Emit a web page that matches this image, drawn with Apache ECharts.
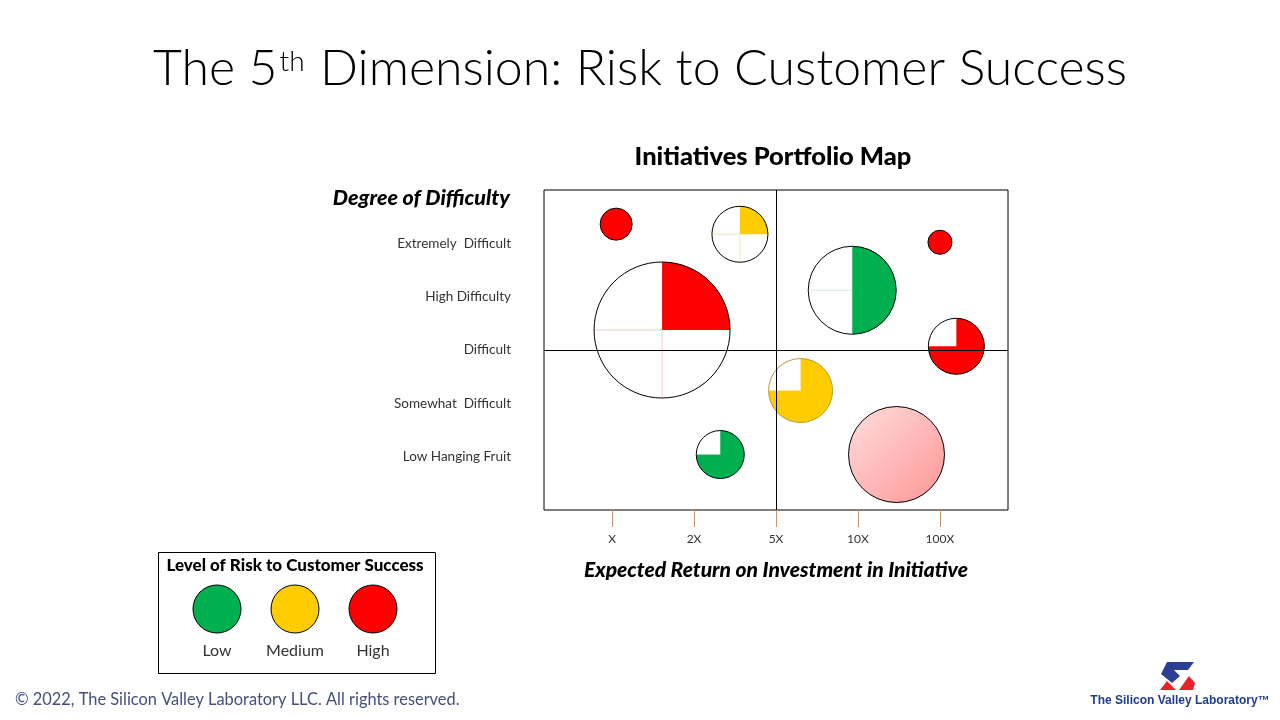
<!DOCTYPE html>
<html>
<head>
<meta charset="utf-8">
<script src="https://cdn.jsdelivr.net/npm/echarts@6/dist/echarts.min.js"></script>
<style>html,body{margin:0;padding:0;background:#fff;}#main{width:1280px;height:720px;}</style>
</head>
<body>
<div id="main"></div>
<script>
// ---- data ----
const xLabels = ['X', '2X', '5X', '10X', '100X'];
const yLabels = ['Low Hanging Fruit', 'Somewhat  Difficult', 'Difficult', 'High Difficulty', 'Extremely  Difficult'];
const roiX = [0.05, 1.56, 0.61, 2.93, 4.00, 4.20, 2.30, 1.32, 3.47];
const difficultyY = [5.36, 5.17, 3.375, 4.12, 5.02, 3.07, 2.24, 1.04, 1.04];
const bubbleRadius = [0.30, 0.525, 1.275, 0.825, 0.225, 0.525, 0.60, 0.45, 0.90];
const completion = [1, 0.25, 0.25, 0.5, 1, 0.75, 0.75, 0.75, 1];
const riskLevel = ['High', 'Medium', 'High', 'Low', 'High', 'High', 'Medium', 'Low', 'Pending'];
const legendLevels = ['Low', 'Medium', 'High'];

const riskColors = { Low: '#00b050', Medium: '#ffcc00', High: '#ff0000' };
const faintColors = { Low: '#cfe9da', Medium: '#f7e6b0', High: '#f6cccc', Pending: '#f6cccc' };
const pendingFill = { type: 'linear', x: 0, y: 0, x2: 1, y2: 1, global: false,
  colorStops: [{ offset: 0, color: '#ffdede' }, { offset: 1, color: '#ff9595' }] };

const FONT = 'Lato, "Noto Sans", sans-serif';
const seriesData = roiX.map((x, i) => [x, difficultyY[i], bubbleRadius[i], completion[i]]);

function renderItem(params, api) {
  const c = api.coord([api.value(0), api.value(1)]);
  const r = api.size([0, api.value(2)])[1];
  const frac = api.value(3);
  const lvl = riskLevel[params.dataIndex];
  const fill = lvl === 'Pending' ? pendingFill : riskColors[lvl];
  const cx = c[0], cy = c[1];
  const children = [{ type: 'circle', shape: { cx, cy, r }, style: { fill: '#fff' } }];
  if (frac >= 1) {
    children.push({ type: 'circle', shape: { cx, cy, r }, style: { fill } });
  } else {
    children.push({ type: 'sector', shape: { cx, cy, r, r0: 0,
      startAngle: -Math.PI / 2, endAngle: -Math.PI / 2 + frac * 2 * Math.PI, clockwise: true },
      style: { fill } });
    for (let q = 1; q < 4; q++) {
      const a = q * 0.25;
      if (a > frac + 1e-6) {
        const th = a * 2 * Math.PI;
        children.push({ type: 'line', shape: { x1: cx, y1: cy, x2: cx + r * Math.sin(th), y2: cy - r * Math.cos(th) },
          style: { stroke: faintColors[lvl], lineWidth: 1 } });
      }
    }
  }
  const outline = (lvl === 'Medium' && frac > 0.5) ? '#b89a3a' : '#000';
  children.push({ type: 'circle', shape: { cx, cy, r }, style: { fill: 'none', stroke: outline, lineWidth: 1 } });
  return { type: 'group', children };
}

const chart = echarts.init(document.getElementById('main'));

const legendGraphics = [];
const legendCx = [217, 295, 373];
legendLevels.forEach((lv, i) => {
  legendGraphics.push({ type: 'circle', shape: { cx: legendCx[i], cy: 609, r: 24 },
    style: { fill: riskColors[lv], stroke: '#000', lineWidth: 1 } });
  legendGraphics.push({ type: 'text', x: legendCx[i], y: 651,
    style: { text: lv, fontSize: 16, fontFamily: FONT, fill: '#333', align: 'center', verticalAlign: 'middle' } });
});

chart.setOption({
  backgroundColor: '#fff',
  animation: false,
  title: [
    { text: '{a|The 5}{s|th}{a| Dimension: Risk to Customer Success}', left: 'center', top: 34,
      textStyle: { rich: {
        a: { fontSize: 50, fontFamily: FONT, fontWeight: 300, color: '#000', lineHeight: 60 },
        s: { fontSize: 28, fontFamily: FONT, fontWeight: 300, color: '#000', verticalAlign: 'top', lineHeight: 30, padding: [9, 2, 0, 2] }
      } } },
    { text: 'Initiatives Portfolio Map', left: 768, top: 139, textAlign: 'center',
      textStyle: { fontSize: 25.5, fontWeight: 900, fontFamily: FONT, color: '#000' } }
  ],
  grid: { left: 544, top: 190, width: 464, height: 320, show: true, borderColor: '#000', borderWidth: 1, backgroundColor: 'transparent' },
  xAxis: {
    type: 'value', min: -0.83, max: 4.83,
    axisLine: { show: false },
    splitLine: { show: false },
    axisTick: { show: true, customValues: [0, 1, 2, 3, 4], length: 17, lineStyle: { color: '#c8946a', width: 1 } },
    axisLabel: { customValues: [0, 1, 2, 3, 4], formatter: v => xLabels[Math.round(v)], margin: 23,
      fontSize: 12, fontFamily: FONT, color: '#333' },
    name: 'Expected Return on Investment in Initiative', nameLocation: 'middle', nameGap: 50,
    nameTextStyle: { fontSize: 21, fontWeight: 900, fontStyle: 'italic', fontFamily: FONT, color: '#000' }
  },
  yAxis: {
    type: 'value', min: 0, max: 6,
    axisLine: { show: false }, axisTick: { show: false }, splitLine: { show: false },
    axisLabel: { customValues: [1, 2, 3, 4, 5], formatter: v => yLabels[Math.round(v) - 1], margin: 33,
      fontSize: 13.5, fontFamily: FONT, color: '#333' }
  },
  graphic: [
    { type: 'text', x: 510, y: 198, style: { text: 'Degree of Difficulty', fontSize: 21.5, fontWeight: 900, fontStyle: 'italic',
      fontFamily: FONT, fill: '#000', align: 'right', verticalAlign: 'middle' } },
    { type: 'rect', shape: { x: 158.5, y: 552.5, width: 277, height: 121 }, style: { fill: 'none', stroke: '#000', lineWidth: 1 } },
    { type: 'text', x: 295, y: 566, style: { text: 'Level of Risk to Customer Success', fontSize: 17, fontWeight: 900,
      fontFamily: FONT, fill: '#000', align: 'center', verticalAlign: 'middle' } },
    ...legendGraphics,
    { type: 'text', x: 15, y: 700, style: { text: '© 2022, The Silicon Valley Laboratory LLC. All rights reserved.', fontSize: 16.4,
      fontFamily: FONT, fill: '#44507a', align: 'left', verticalAlign: 'middle' } },
    { type: 'polygon', shape: { points: [[1167, 662], [1194, 662], [1188, 670], [1174, 670], [1180, 676], [1172, 683], [1161, 674]] },
      style: { fill: '#2b3f95' } },
    { type: 'polygon', shape: { points: [[1160, 690], [1167, 681], [1176, 690]] }, style: { fill: '#e8232a' } },
    { type: 'polygon', shape: { points: [[1179, 690], [1189, 676], [1195, 683], [1193, 690]] }, style: { fill: '#e8232a' } },
    { type: 'text', x: 1180, y: 701, style: { text: 'The Silicon Valley Laboratory™', fontSize: 12, fontWeight: 'bold',
      fontFamily: '"Liberation Sans", Arial, sans-serif', fill: '#1f3c88', align: 'center', verticalAlign: 'middle' } }
  ],
  series: [
    { type: 'line', data: [], z: 1, silent: true,
      markLine: { symbol: 'none', silent: true, label: { show: false },
        lineStyle: { color: '#000', width: 1, type: 'solid' },
        data: [{ xAxis: 2 }, { yAxis: 3 }] } },
    { type: 'custom', z: 3, renderItem, encode: { x: 0, y: 1 }, data: seriesData, clip: false }
  ]
});
</script>
</body>
</html>
